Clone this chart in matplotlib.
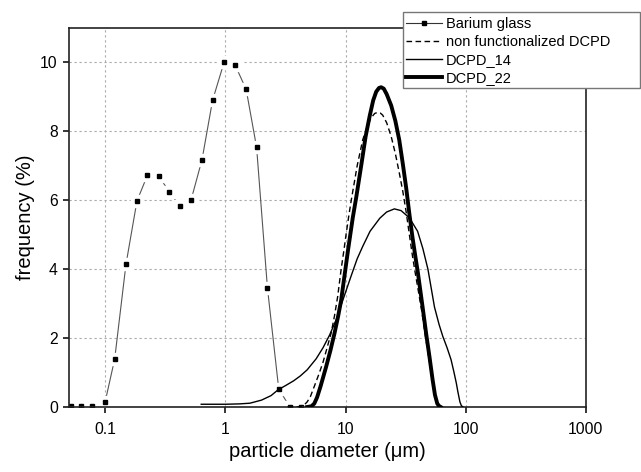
import matplotlib
matplotlib.use("Agg")
import matplotlib.pyplot as plt
from matplotlib.patches import Rectangle
from matplotlib.ticker import FixedLocator, FixedFormatter, NullLocator

plt.rcParams['font.family'] = ['Liberation Sans', 'DejaVu Sans']

# Barium glass (measured points)
ba_x = [0.052, 0.063, 0.078, 0.1, 0.12, 0.149, 0.184, 0.225, 0.278, 0.343, 0.42,
        0.518, 0.64, 0.783, 0.975, 1.2, 1.49, 1.82, 2.24, 2.78, 3.44, 4.23]
ba_y = [0.02, 0.02, 0.02, 0.15, 1.39, 4.14, 5.98, 6.73, 6.71, 6.24, 5.82,
        6.0, 7.18, 8.9, 10.0, 9.94, 9.22, 7.54, 3.46, 0.53, 0.0, 0.0]

# non functionalized DCPD
nf_x = [3.3, 4.0, 4.5, 4.8, 5.1, 5.5, 6.0, 6.5, 7.0, 7.6, 8.1, 8.6, 9.2, 9.7, 10.1,
        10.6, 11.1, 12.5, 13.9, 15.0, 16.3, 17.5, 18.5, 19.5, 20.4, 22.0, 24.0, 26.0,
        28.0, 30.0, 32.0, 34.0, 36.0, 38.0, 40.0, 43.0, 46.0, 50.0, 53.0, 56.0, 58.0, 60.0]
nf_y = [0.0, 0.0, 0.05, 0.15, 0.3, 0.6, 0.95, 1.3, 1.7, 2.15, 2.65, 3.2, 4.0, 4.55, 5.0,
        5.5, 5.95, 7.0, 7.75, 8.1, 8.39, 8.52, 8.55, 8.53, 8.47, 8.25, 7.85, 7.35,
        6.8, 6.25, 5.65, 5.0, 4.4, 3.9, 3.45, 2.8, 2.1, 1.3, 0.75, 0.25, 0.08, 0.0]

# DCPD_14
d14_x = [0.63, 0.8, 1.0, 1.3, 1.6, 2.0, 2.4, 2.75, 3.2, 3.7, 4.2, 4.8, 5.7, 6.5, 7.4,
         8.4, 9.5, 11.0, 12.5, 13.9, 16.0, 19.3, 22.0, 25.5, 29.0, 34.0, 39.8, 44.0,
         48.5, 55.0, 60.0, 64.5, 70.0, 75.6, 80.0, 83.6, 86.0, 89.5, 92.0, 95.0]
d14_y = [0.08, 0.08, 0.08, 0.09, 0.11, 0.2, 0.33, 0.5, 0.63, 0.76, 0.9, 1.08, 1.4, 1.72, 2.1,
         2.55, 3.1, 3.75, 4.3, 4.66, 5.1, 5.48, 5.66, 5.75, 5.7, 5.49, 5.1, 4.6,
         4.0, 2.9, 2.4, 2.05, 1.72, 1.37, 1.0, 0.69, 0.45, 0.15, 0.04, 0.0]

# DCPD_22
d22_x = [4.8, 5.2, 5.5, 5.8, 6.2, 6.9, 7.5, 8.1, 8.7, 9.2, 9.8, 10.5, 11.5, 12.3, 13.5,
         14.7, 15.9, 17.0, 18.0, 19.0, 19.8, 20.8, 22.0, 24.0, 26.0, 28.0, 30.0, 32.0,
         34.0, 36.0, 38.0, 40.0, 44.0, 47.0, 50.0, 53.0, 55.5, 58.0, 60.0, 62.0]
d22_y = [0.0, 0.02, 0.1, 0.28, 0.6, 1.17, 1.65, 2.14, 2.65, 3.1, 3.8, 4.56, 5.5, 6.1, 7.0,
         7.85, 8.45, 8.9, 9.15, 9.26, 9.28, 9.24, 9.08, 8.75, 8.3, 7.75, 7.05, 6.35,
         5.6, 4.95, 4.4, 3.9, 2.85, 2.1, 1.45, 0.8, 0.35, 0.1, 0.03, 0.0]

x_ticks = [0.1, 1, 10, 100, 1000]
x_labels = ["0.1", "1", "10", "100", "1000"]
y_ticks = [0, 2, 4, 6, 8, 10]
names = ["Barium glass", "non functionalized DCPD", "DCPD_14", "DCPD_22"]

fig = plt.figure(figsize=(6.41, 4.72), dpi=100)
ax = fig.add_axes([0.1076, 0.1377, 0.8064, 0.803])

ax.set_xscale('log')
ax.set_xlim(0.05, 1000)
ax.set_ylim(0, 11)

# barium glass: gray line, white gaps around the markers, black squares
ax.plot(ba_x, ba_y, color='#555555', lw=0.8, zorder=2)
ax.plot(ba_x, ba_y, ls='none', marker='s', ms=8.5, mfc='white', mec='white', zorder=2.1)
ax.plot(ba_x, ba_y, ls='none', marker='s', ms=3.3, mfc='black', mec='black', zorder=2.2)

ax.plot(nf_x, nf_y, color='black', lw=1.0, ls=(0, (4, 2.5)), zorder=3)
ax.plot(d14_x, d14_y, color='black', lw=1.0, zorder=3)
ax.plot(d22_x, d22_y, color='black', lw=2.8, zorder=3.1, solid_joinstyle='round')

# legend box drawn separately so it runs to the right edge like the original
fig.add_artist(Rectangle((403 / 641, 1 - 88 / 472), 237 / 641, 76 / 472,
                         transform=fig.transFigure, facecolor='white',
                         edgecolor='#777777', lw=1.0, zorder=9))

h_ba, = ax.plot([], [], color='#333333', lw=0.8, marker='s', ms=3.3, mfc='black', mec='black')
h_nf, = ax.plot([], [], color='black', lw=1.0, ls=(0, (4, 2.5)))
h_14, = ax.plot([], [], color='black', lw=1.0)
h_22, = ax.plot([], [], color='black', lw=2.8)
leg = fig.legend([h_ba, h_nf, h_14, h_22], names,
                 loc='upper left', bbox_to_anchor=(406 / 641, 1 - 17 / 472),
                 fontsize=10.5, frameon=False, handlelength=2.5, handletextpad=0.25,
                 borderpad=0, labelspacing=0.27, borderaxespad=0)
leg.set_zorder(10)

ax.xaxis.set_major_locator(FixedLocator(x_ticks))
ax.xaxis.set_major_formatter(FixedFormatter(x_labels))
ax.xaxis.set_minor_locator(NullLocator())
ax.set_yticks(y_ticks)

ax.grid(True, which='major', color='#aaaaaa', ls=(0, (2, 2.5)), lw=0.8)
ax.set_axisbelow(True)

ax.tick_params(direction='out', length=4.5, width=1.1, labelsize=11.3, colors='black')
ax.tick_params(axis='x', pad=6)
for s in ax.spines.values():
    s.set_linewidth(1.2)
    s.set_color('#222222')

ax.set_xlabel("particle diameter (μm)", fontsize=14.5, labelpad=4)
ax.set_ylabel("frequency (%)", fontsize=14.5, labelpad=4)

fig.savefig("out.png", dpi=100)
